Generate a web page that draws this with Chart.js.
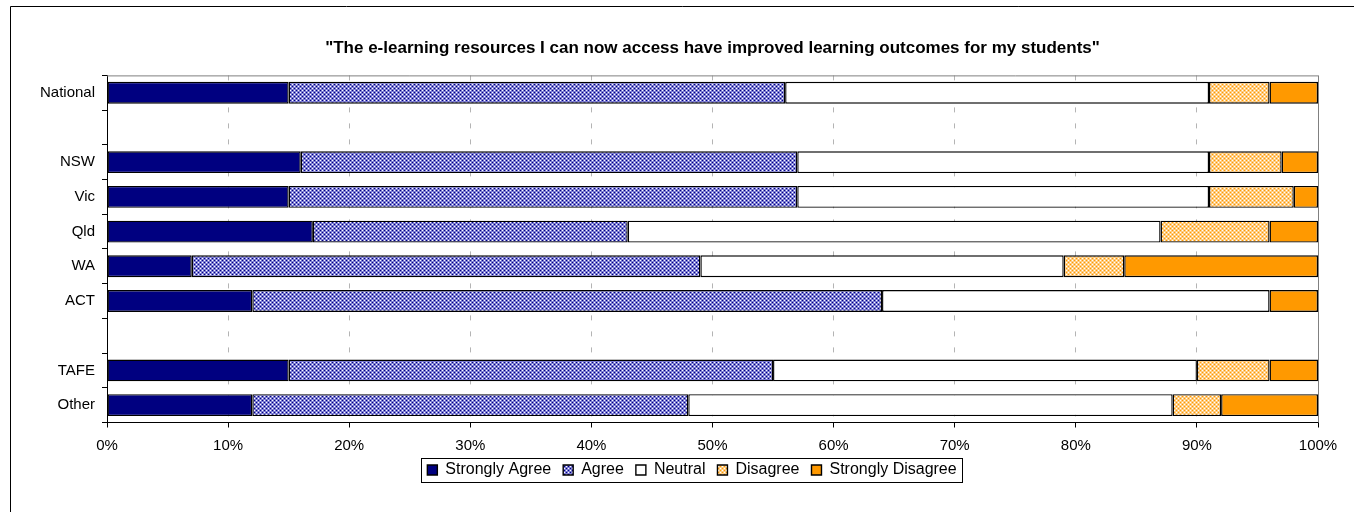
<!DOCTYPE html>
<html>
<head>
<meta charset="utf-8">
<script src="https://cdn.jsdelivr.net/npm/chart.js@4.4.0/dist/chart.umd.min.js"></script>
<style>
  body { margin: 0; background: #fff; }
  #wrap { width: 1354px; height: 512px; }
</style>
</head>
<body>
<div id="wrap"><canvas id="likertChart" width="1354" height="512"></canvas></div>
<script>
// categories (blank rows are spacer rows in the original)
var categories = ['National', '', 'NSW', 'Vic', 'Qld', 'WA', 'ACT', '', 'TAFE', 'Other'];
var xTicks = [0, 10, 20, 30, 40, 50, 60, 70, 80, 90, 100];

// percent of respondents
var stronglyAgree    = [15, null, 16, 15, 17,  7, 12, null, 15, 12];
var agree            = [41, null, 41, 42, 26, 42, 52, null, 40, 36];
var neutral          = [35, null, 34, 34, 44, 30, 32, null, 35, 40];
var disagree         = [ 5, null,  6,  7,  9,  5,  0, null,  6,  4];
var stronglyDisagree = [ 4, null,  3,  2,  4, 16,  4, null,  4,  8];

var FONT = "'Liberation Sans', Arial, sans-serif";

// small checker pattern like the excel fill
function checker(base, dark, light) {
    var c = document.createElement('canvas');
    c.width = 4; c.height = 4;
    var g = c.getContext('2d');
    g.fillStyle = base;
    g.fillRect(0, 0, 4, 4);
    g.fillStyle = light;
    g.fillRect(0, 0, 1, 1);
    g.fillRect(2, 2, 1, 1);
    g.fillStyle = dark;
    g.fillRect(2, 0, 1, 1);
    g.fillRect(0, 2, 1, 1);
    return g.createPattern(c, 'repeat');
}

var agreeFill = checker('#7b7bd2', '#000080', '#ffffff');
var disagreeFill = checker('#ffcc80', '#ff9900', '#ffffff');

var frame = {
    id: 'frame',
    afterLayout: function (chart) {
        // legend sits a bit right of the layout centre in the original
        var lg = chart.legend;
        if (lg) { lg.left += 18; lg.right += 18; }
    },
    beforeDraw: function (chart) {
        var ctx = chart.ctx;
        ctx.save();
        ctx.fillStyle = '#fff';
        ctx.fillRect(0, 0, chart.width, chart.height);
        ctx.strokeStyle = '#000';
        ctx.lineWidth = 1;
        ctx.beginPath();
        ctx.moveTo(10.5, chart.height);
        ctx.lineTo(10.5, 6.5);
        ctx.lineTo(chart.width, 6.5);
        ctx.stroke();
        ctx.restore();
    },
    beforeDatasetsDraw: function (chart) {
        var a = chart.chartArea;
        var ctx = chart.ctx;
        ctx.save();
        ctx.strokeStyle = '#808080';
        ctx.lineWidth = 1;
        ctx.beginPath();
        ctx.moveTo(a.left, a.top + 0.5);
        ctx.lineTo(a.right + 0.5, a.top + 0.5);
        ctx.lineTo(a.right + 0.5, a.bottom);
        ctx.stroke();
        ctx.restore();
    },
    afterDraw: function (chart) {
        var boxes = chart.legend.legendHitBoxes;
        if (!boxes || !boxes.length) return;
        var l = Infinity, r = -Infinity, t = Infinity, b = -Infinity;
        boxes.forEach(function (h) {
            l = Math.min(l, h.left);
            r = Math.max(r, h.left + h.width);
            t = Math.min(t, h.top);
            b = Math.max(b, h.top + h.height);
        });
        var ctx = chart.ctx;
        ctx.save();
        ctx.strokeStyle = '#000';
        ctx.lineWidth = 1;
        ctx.strokeRect(Math.round(l - 6) + 0.5, Math.round(t - 4) + 0.5,
                       Math.round(r - l + 12), Math.round(b - t + 8));
        ctx.restore();
    }
};

var chartdata = {
    labels: categories,
    datasets: [
        { label: 'Strongly Agree', data: stronglyAgree, backgroundColor: '#000080' },
        { label: 'Agree', data: agree, backgroundColor: agreeFill },
        { label: 'Neutral', data: neutral, backgroundColor: '#ffffff' },
        { label: 'Disagree', data: disagree, backgroundColor: disagreeFill },
        { label: 'Strongly Disagree', data: stronglyDisagree, backgroundColor: '#ff9900' }
    ]
};
chartdata.datasets.forEach(function (ds) {
    ds.borderColor = '#000';
    ds.borderWidth = 1.4;
    ds.borderSkipped = false;
    ds.barPercentage = 0.63;
    ds.categoryPercentage = 1;
});

var ctx = document.getElementById('likertChart');
var barGraph = new Chart(ctx, {
    type: 'bar',
    data: chartdata,
    plugins: [frame],
    options: {
        indexAxis: 'y',
        responsive: false,
        animation: false,
        layout: { padding: { left: 30, right: 36, top: 0, bottom: 24 } },
        scales: {
            x: {
                stacked: true,
                min: 0,
                max: 100,
                afterBuildTicks: function (s) {
                    s.ticks = xTicks.map(function (v) { return { value: v }; });
                },
                afterFit: function (s) { s.height = 27.5; },
                grid: {
                    color: '#b4b4b4',
                    tickColor: '#000',
                    tickLength: 5,
                    lineWidth: 1
                },
                border: { display: true, color: '#000', width: 1, dash: [5, 11] },
                ticks: {
                    color: '#000',
                    padding: 9,
                    maxRotation: 0,
                    autoSkip: false,
                    font: { family: FONT, size: 15 },
                    callback: function (v) { return v + '%'; }
                }
            },
            y: {
                stacked: true,
                afterFit: function (s) { s.width = 77; },
                grid: {
                    display: true,
                    offset: true,
                    drawOnChartArea: false,
                    color: '#000',
                    tickLength: 5
                },
                border: { display: true, color: '#000', width: 1 },
                ticks: {
                    color: '#000',
                    padding: 7,
                    autoSkip: false,
                    font: { family: FONT, size: 15 }
                }
            }
        },
        plugins: {
            title: {
                display: true,
                fullSize: false,
                text: '"The e-learning resources I can now access have improved learning outcomes for my students"',
                color: '#000',
                font: { family: FONT, size: 17, weight: 'bold' },
                padding: { top: 38, bottom: 17 }
            },
            legend: {
                display: true,
                position: 'bottom',
                labels: {
                    color: '#000',
                    boxWidth: 10,
                    boxHeight: 10,
                    padding: 12,
                    font: { family: FONT, size: 16 }
                }
            },
            tooltip: { enabled: false }
        }
    }
});
</script>
</body>
</html>
